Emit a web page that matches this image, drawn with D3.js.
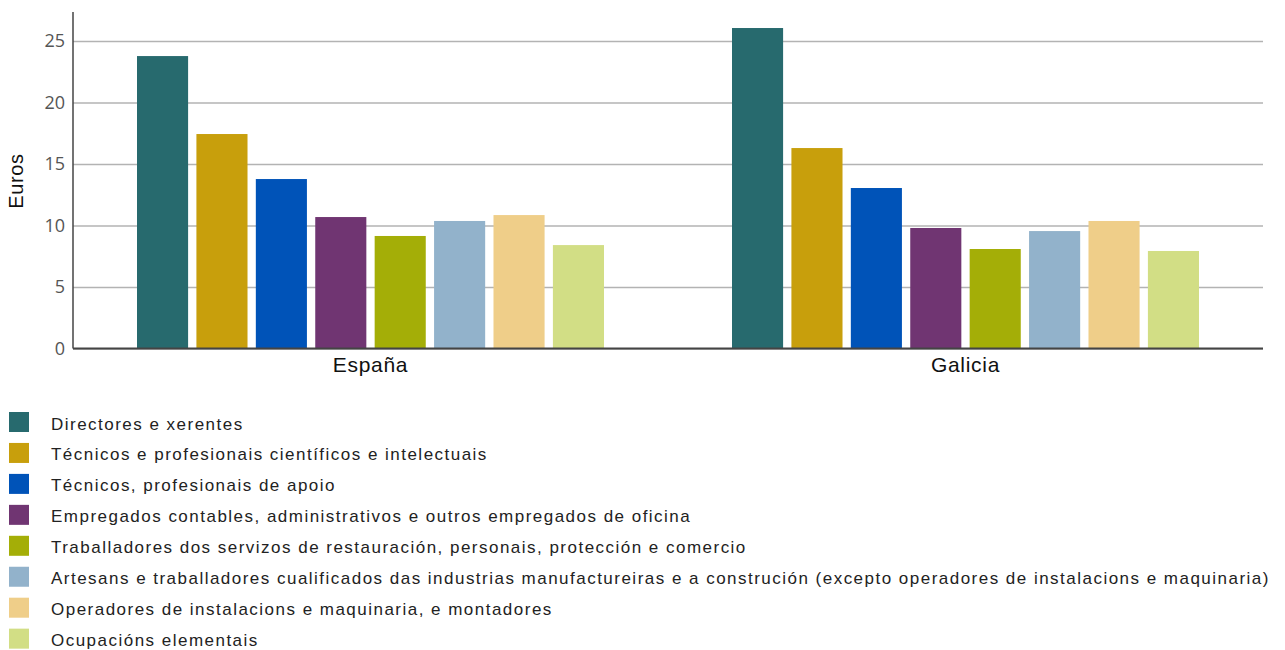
<!DOCTYPE html>
<html><head><meta charset="utf-8">
<script src="https://cdn.jsdelivr.net/npm/d3@7"></script>
<style>body{margin:0;background:#fff}svg{display:block}</style>
</head><body><svg id="c" width="1285" height="650"></svg>
<script>
const categories = ["España", "Galicia"];
const seriesNames = [
  "Directores e xerentes",
  "Técnicos e profesionais científicos e intelectuais",
  "Técnicos, profesionais de apoio",
  "Empregados contables, administrativos e outros empregados de oficina",
  "Traballadores dos servizos de restauración, personais, protección e comercio",
  "Artesans e traballadores cualificados das industrias manufactureiras e a construción (excepto operadores de instalacions e maquinaria)",
  "Operadores de instalacions e maquinaria, e montadores",
  "Ocupacións elementais"
];
const valuesEspana = [23.78, 17.44, 13.78, 10.69, 9.15, 10.37, 10.85, 8.41];
const valuesGalicia = [26.06, 16.30, 13.05, 9.80, 8.09, 9.55, 10.37, 7.93];
const colors = ["#276a6e", "#c89f0c", "#0053b8", "#703572", "#a4ae07", "#92b2cb", "#efce89", "#d2de85"];
const yTicks = [0, 5, 10, 15, 20, 25];

const data = categories.map((c, i) => ({cat: c, vals: [valuesEspana, valuesGalicia][i]}));

const svg = d3.select("#c");
const L = 73, R = 1263, T = 12, B = 348.5;
const maxV = d3.max([...valuesEspana, ...valuesGalicia]);
const y = d3.scaleLinear().domain([0, maxV * 1.05]).range([B, T]);
const x0 = d3.scaleBand().domain(categories).range([L, R]).padding(0);
const x1 = d3.scaleBand().domain(d3.range(seriesNames.length))
  .range([64, x0.bandwidth() - 64]).paddingInner(0.14).paddingOuter(0);

// grid
const grid = svg.append("g").attr("transform", `translate(${L},0)`)
  .call(d3.axisLeft(y).tickValues(yTicks).tickSize(-(R - L)).tickFormat(""));
grid.select(".domain").remove();
grid.selectAll("line").attr("stroke", "#b3b3b3").attr("stroke-width", 1.5);

// bars
data.forEach(d => {
  svg.append("g").attr("transform", `translate(${x0(d.cat)},0)`)
    .selectAll("rect").data(d.vals).join("rect")
    .attr("x", (v, i) => x1(i))
    .attr("width", x1.bandwidth())
    .attr("y", v => y(v))
    .attr("height", v => B - y(v))
    .attr("fill", (v, i) => colors[i]);
});

// y axis
const ya = svg.append("g").attr("transform", `translate(${L},0)`)
  .call(d3.axisLeft(y).tickValues(yTicks).tickSize(0).tickPadding(8));
ya.select(".domain").attr("stroke", "#444").attr("stroke-width", 1.5).attr("d", `M0,${T}V${B}`);
ya.selectAll("text").attr("font-family", "Open Sans").attr("font-size", 18).attr("fill", "#555");

// x axis
const xa = svg.append("g").attr("transform", `translate(0,${B})`)
  .call(d3.axisBottom(x0).tickSize(0).tickPadding(10));
xa.select(".domain").attr("stroke", "#444").attr("stroke-width", 2).attr("d", `M${L},0H${R}`);
xa.selectAll("text").attr("font-family", "Liberation Sans, Arial").attr("font-size", 21)
  .attr("letter-spacing", 0.7).attr("fill", "#111").attr("dy", "0.65em");

// y label
svg.append("text").attr("transform", "translate(23,181) rotate(-90)")
  .attr("text-anchor", "middle").attr("font-family", "Liberation Sans, Arial")
  .attr("font-size", 20).attr("letter-spacing", 0.6).attr("fill", "#111").text("Euros");

// legend
const lg = svg.append("g").selectAll("g").data(seriesNames).join("g")
  .attr("transform", (d, i) => `translate(9,${412 + i * 30.95})`);
lg.append("rect").attr("width", 20).attr("height", 20).attr("fill", (d, i) => colors[i]);
lg.append("text").attr("x", 42).attr("y", 17.5).attr("font-family", "Liberation Sans, Arial")
  .attr("font-size", 17).attr("letter-spacing", 1.48).attr("fill", "#222").text(d => d);
</script></body></html>
